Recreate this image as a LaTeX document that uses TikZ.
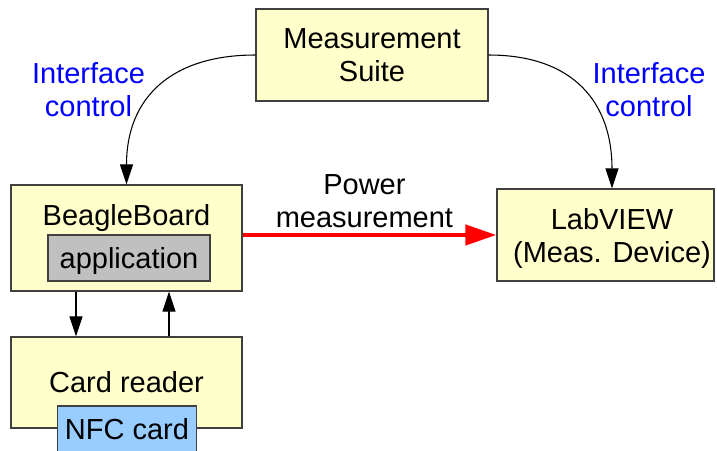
\documentclass[tikz,border=0pt]{standalone}
\usepackage{fontspec}
\setmainfont{Liberation Sans}
\usetikzlibrary{arrows.meta}
\definecolor{boxyellow}{HTML}{FFFFCC}
\definecolor{appgray}{HTML}{C0C0C0}
\definecolor{cardblue}{HTML}{99CCFF}
\definecolor{edgegray}{HTML}{404040}
\tikzset{
  blk/.style = {align=center, inner sep=0pt, text centered,
    font=\fontsize{16.5pt}{18.8pt}\selectfont},
  box_y/.style = {blk, rectangle, draw=edgegray, fill=boxyellow,
    line width=0.7pt},% bloc jaune
  box_g/.style = {blk, rectangle, draw=edgegray, fill=appgray,
    line width=0.7pt, text height=14.9pt, text depth=3.5pt},% application
  box_b/.style = {blk, rectangle, draw=edgegray, fill=cardblue,
    line width=0.7pt},% carte
  lbl_b/.style = {blk, text=blue}% texte bleu
}

\begin{document}
\begin{tikzpicture}[>={Triangle[length=4mm,width=2.6mm]}, line width=0.6pt]
	\useasboundingbox (0,0) rectangle (14.34,-9);

	\node [box_y, minimum width=4.64cm, minimum height=1.84cm] (suite) at (7.44,-1.1) {Measurement\\Suite};
	\node [box_y, minimum width=4.62cm, minimum height=2.12cm] (beagle) at (2.53,-4.76) {};
	\node [blk] (beagletxt) at (2.53,-4.35) {BeagleBoard};
	\node [box_g, minimum width=3.24cm, minimum height=0.92cm] (app) at (2.58,-5.16) {application};
	\node [box_y, minimum width=4.34cm, minimum height=1.84cm] (lab) at (12.11,-4.7) {};
	\node [blk] (labtxt) at (12.24,-4.77) {LabVIEW\\(Meas. Device)};
	\node [box_y, minimum width=4.62cm, minimum height=1.82cm] (reader) at (2.53,-7.65) {Card reader};
	\node [box_b, minimum width=2.78cm, minimum height=0.92cm] (nfc) at (2.54,-8.58) {NFC card};

	\node [lbl_b] (ictl_l) at (1.77,-1.79) {Interface\\control};
	\node [lbl_b] (ictl_r) at (12.98,-1.79) {Interface\\control};

	\draw [->] (suite.west) to[out=180, in=90, looseness=1.2] (beagle.north);
	\draw [->] (suite.east) to[out=0, in=90, looseness=1.2] (lab.north -| labtxt.north);

	\draw [->] ([xshift=-1.01cm]beagle.south) -- ([xshift=-1.01cm]reader.north);
	\draw [->] ([xshift=0.85cm]reader.north) -- ([xshift=0.85cm]beagle.south);

	\draw [->, red, line width=2.5pt, >={Triangle[length=6.2mm,width=4mm]}]
		(beagle.east |- lab.west) -- (lab.west)
		node [blk, black, above=3pt, pos=0.48] (pwr) {Power\\measurement};

\end{tikzpicture}
\end{document}
